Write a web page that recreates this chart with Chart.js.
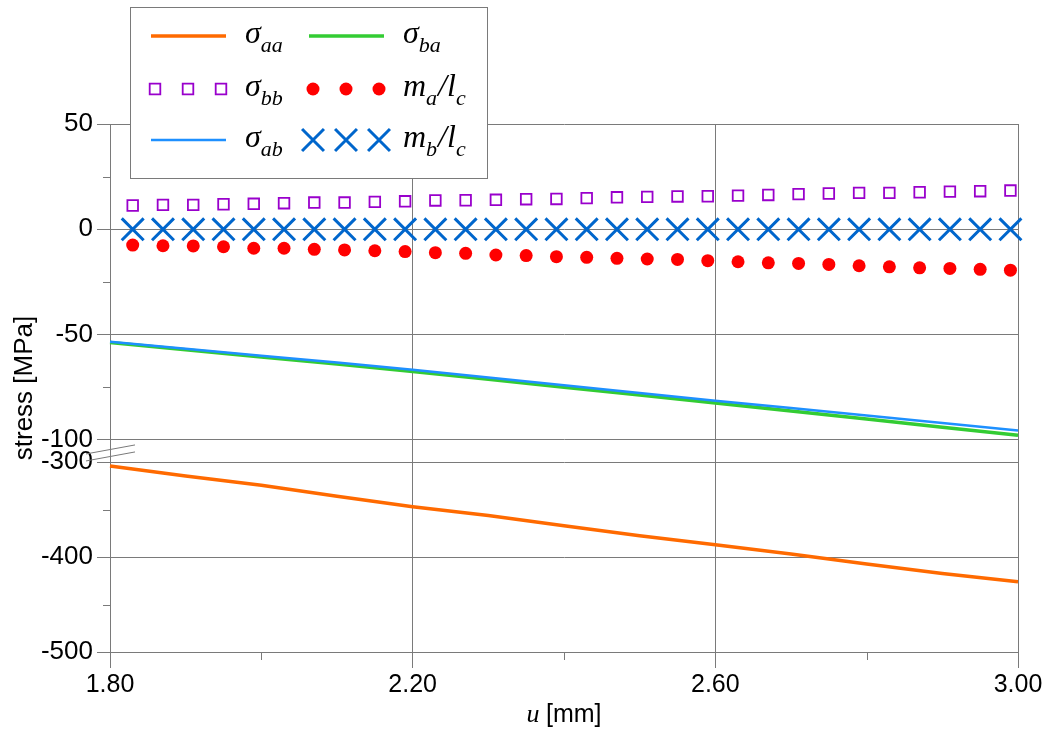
<!DOCTYPE html>
<html>
<head>
<meta charset="utf-8">
<script src="https://cdn.jsdelivr.net/npm/chart.js@4.4.0/dist/chart.umd.min.js"></script>
<style>
  html, body { margin: 0; padding: 0; background: #fff; }
</style>
</head>
<body>
<canvas id="grafico" width="1049" height="736"></canvas>
<script>
// marker series, u [mm]
const uPuntos = [1.83, 1.87, 1.91, 1.95, 1.99, 2.03, 2.07, 2.11, 2.15, 2.19,
                 2.23, 2.27, 2.31, 2.35, 2.39, 2.43, 2.47, 2.51, 2.55, 2.59,
                 2.63, 2.67, 2.71, 2.75, 2.79, 2.83, 2.87, 2.91, 2.95, 2.99];
const sigmaBB = [11.3, 11.6, 11.6, 11.9, 12.1, 12.4, 12.7, 12.7, 13.0, 13.3,
                 13.7, 13.8, 14.0, 14.3, 14.4, 14.8, 15.2, 15.4, 15.6, 15.7,
                 16.0, 16.3, 16.7, 17.0, 17.3, 17.3, 17.6, 17.9, 18.1, 18.4];
const maLc = [-7.5, -7.8, -7.9, -8.3, -9.0, -9.0, -9.5, -9.8, -10.2, -10.6,
              -11.1, -11.4, -12.2, -12.5, -13.0, -13.3, -13.8, -14.1, -14.3, -14.9,
              -15.4, -15.9, -16.2, -16.7, -17.3, -17.8, -18.3, -18.6, -19.0, -19.4];
const mbLc = [0, 0, 0, 0, 0, 0, 0, 0, 0, 0,
              0, 0, 0, 0, 0, 0, 0, 0, 0, 0,
              0, 0, 0, 0, 0, 0, 0, 0, 0, 0];

// line series
const uLineas = [1.8, 1.9, 2.0, 2.1, 2.2, 2.3, 2.4, 2.5, 2.6, 2.7, 2.8, 2.9, 3.0];
const sigmaAB = [-53.4, -56.7, -60.0, -63.3, -66.7, -70.4, -74.0, -77.7, -81.4, -84.9, -88.4, -92.0, -95.5];
const sigmaBA = [-53.8, -57.2, -60.6, -64.0, -67.5, -71.2, -75.0, -78.7, -82.5, -86.3, -90.1, -94.0, -97.8];
const sigmaAA = [-304.2, -314.8, -324.4, -336.0, -347.0, -356.4, -367.2, -377.7, -387.1, -396.9, -407.3, -417.4, -426.1];

// ticks
const xTicks = [1.8, 2.2, 2.6, 3.0];
const xMenores = [2.0, 2.4, 2.8];
const yTicksArriba = [50, 0, -50, -100];
const yMenoresArriba = [25, -25, -75];
const yTicksAbajo = [-300, -400, -500];
const yMenoresAbajo = [-350, -450];

const sans = '"Liberation Sans", Arial, sans-serif';
const serif = '"Liberation Serif", "Times New Roman", serif';
const gris = '#7a7a7a';

const pares = (xs, ys) => xs.map((x, i) => ({ x: x, y: ys[i] }));

// legend entries, text pieces: [text, is subscript]
const leyenda = [
  { tipo: 'linea', color: '#ff6a00', ancho: 3.5, x: 151, y: 36, texto: [['σ', 0], ['aa', 1]] },
  { tipo: 'linea', color: '#33cc33', ancho: 3.5, x: 309, y: 36, texto: [['σ', 0], ['ba', 1]] },
  { tipo: 'rect', x: 151, y: 89, texto: [['σ', 0], ['bb', 1]] },
  { tipo: 'circle', x: 309, y: 89, texto: [['m', 0], ['a', 1], ['/', 0], ['l', 0], ['c', 1]] },
  { tipo: 'linea', color: '#1e90ff', ancho: 2.5, x: 151, y: 140, texto: [['σ', 0], ['ab', 1]] },
  { tipo: 'crossRot', x: 309, y: 140, texto: [['m', 0], ['b', 1], ['/', 0], ['l', 0], ['c', 1]] }
];

const decoracion = {
  id: 'decoracion',
  afterDraw(chart) {
    const ctx = chart.ctx;
    const a = chart.chartArea;
    const sx = chart.scales.x, yt = chart.scales.yt, yb = chart.scales.yb;
    ctx.save();
    // minor ticks
    ctx.strokeStyle = gris;
    ctx.lineWidth = 1;
    ctx.beginPath();
    yMenoresArriba.forEach(v => { const p = Math.round(yt.getPixelForValue(v)) + 0.5; ctx.moveTo(a.left - 7, p); ctx.lineTo(a.left, p); });
    yMenoresAbajo.forEach(v => { const p = Math.round(yb.getPixelForValue(v)) + 0.5; ctx.moveTo(a.left - 7, p); ctx.lineTo(a.left, p); });
    xMenores.forEach(v => { const p = Math.round(sx.getPixelForValue(v)) + 0.5; ctx.moveTo(p, a.bottom); ctx.lineTo(p, a.bottom + 8); });
    ctx.stroke();
    // axis break marks
    const yA = yt.getPixelForValue(-100), yB = yb.getPixelForValue(-300);
    const medio = (yA + yB) / 2;
    ctx.beginPath();
    ctx.moveTo(a.left - 24, medio + 3); ctx.lineTo(a.left + 25, medio - 6);
    ctx.moveTo(a.left - 24, medio + 10); ctx.lineTo(a.left + 25, medio + 1);
    ctx.stroke();

    // axis titles
    ctx.fillStyle = '#000';
    ctx.save();
    ctx.translate(25, (a.top + a.bottom) / 2);
    ctx.rotate(-Math.PI / 2);
    ctx.font = '26px ' + sans;
    ctx.textAlign = 'center';
    ctx.textBaseline = 'middle';
    ctx.fillText('stress [MPa]', 0, 0);
    ctx.restore();

    ctx.textBaseline = 'alphabetic';
    ctx.textAlign = 'left';
    ctx.font = 'italic 26px ' + serif;
    const wU = ctx.measureText('u ').width;
    ctx.font = '25px ' + sans;
    const wMm = ctx.measureText('[mm]').width;
    const tx = (a.left + a.right) / 2 - (wU + wMm) / 2;
    ctx.font = 'italic 26px ' + serif;
    ctx.fillText('u', tx, 722);
    ctx.font = '25px ' + sans;
    ctx.fillText('[mm]', tx + wU, 722);

    // legend box
    ctx.fillStyle = '#fff';
    ctx.fillRect(130, 7, 357, 171);
    ctx.strokeStyle = gris;
    ctx.lineWidth = 1;
    ctx.strokeRect(130.5, 7.5, 357, 171);
    leyenda.forEach(e => {
      if (e.tipo === 'linea') {
        ctx.strokeStyle = e.color;
        ctx.lineWidth = e.ancho;
        ctx.beginPath();
        ctx.moveTo(e.x, e.y); ctx.lineTo(e.x + 75, e.y);
        ctx.stroke();
      } else {
        const estilo = chart.data.datasets.find(d => d.pointStyle === e.tipo);
        ctx.strokeStyle = estilo.borderColor;
        ctx.fillStyle = estilo.backgroundColor;
        ctx.lineWidth = estilo.borderWidth;
        [4, 37, 70].forEach(dx => {
          Chart.helpers.drawPoint(ctx, {
            pointStyle: e.tipo, radius: estilo.pointRadius, rotation: 0,
            borderWidth: estilo.borderWidth
          }, e.x + dx, e.y);
        });
      }
      let px = e.x + 94;
      ctx.fillStyle = '#000';
      e.texto.forEach(t => {
        ctx.font = 'italic ' + (t[1] ? 22 : 32) + 'px ' + serif;
        ctx.fillText(t[0], px, e.y + (t[1] ? 16 : 7));
        px += ctx.measureText(t[0]).width + (t[1] ? 1 : 0);
      });
    });
    ctx.restore();
  }
};

const ejeY = (min, max, ticks, peso) => ({
  type: 'linear', position: 'left', stack: 'y', stackWeight: peso,
  min: min, max: max,
  afterBuildTicks: s => { s.ticks = ticks.map(v => ({ value: v })); },
  afterFit: s => { s.width = 110; },
  ticks: { color: '#000', font: { family: sans, size: 26 }, padding: 4 },
  grid: { color: gris, tickColor: gris, tickLength: 13, lineWidth: 1 },
  border: { color: gris }
});

new Chart(document.getElementById('grafico'), {
  type: 'scatter',
  data: {
    datasets: [
      { label: 'σaa', data: pares(uLineas, sigmaAA), yAxisID: 'yb', showLine: true, borderColor: '#ff6a00', borderWidth: 3.5, pointRadius: 0, clip: false },
      { label: 'σab', data: pares(uLineas, sigmaAB), yAxisID: 'yt', showLine: true, borderColor: '#1e90ff', borderWidth: 2.5, pointRadius: 0, clip: false },
      { label: 'σba', data: pares(uLineas, sigmaBA), yAxisID: 'yt', showLine: true, borderColor: '#33cc33', borderWidth: 3.5, pointRadius: 0, clip: false },
      { label: 'σbb', data: pares(uPuntos, sigmaBB), yAxisID: 'yt', pointStyle: 'rect', pointRadius: 7.5, borderColor: '#9900cc', backgroundColor: 'rgba(0,0,0,0)', borderWidth: 1.8, clip: false },
      { label: 'ma/lc', data: pares(uPuntos, maLc), yAxisID: 'yt', pointStyle: 'circle', pointRadius: 6.5, borderColor: '#ff0000', backgroundColor: '#ff0000', borderWidth: 0, clip: false },
      { label: 'mb/lc', data: pares(uPuntos, mbLc), yAxisID: 'yt', pointStyle: 'crossRot', pointRadius: 15.5, borderColor: '#0066cc', backgroundColor: '#0066cc', borderWidth: 3, clip: false }
    ]
  },
  options: {
    responsive: false,
    animation: false,
    devicePixelRatio: 1,
    layout: { padding: { left: 0, right: 31, top: 124, bottom: 0 } },
    plugins: { legend: { display: false }, tooltip: { enabled: false } },
    scales: {
      x: {
        type: 'linear', min: 1.8, max: 3.0,
        afterBuildTicks: s => { s.ticks = xTicks.map(v => ({ value: v })); },
        afterFit: s => { s.height = 84; },
        ticks: { color: '#000', font: { family: sans, size: 25 }, padding: 2, maxRotation: 0, callback: v => v.toFixed(2) },
        grid: { color: gris, tickColor: gris, tickLength: 16, lineWidth: 1 },
        border: { color: gris }
      },
      yb: ejeY(-500, -300, yTicksAbajo, 190),
      yt: ejeY(-110.5, 50, yTicksArriba, 338)
    }
  },
  plugins: [decoracion]
});
</script>
</body>
</html>
